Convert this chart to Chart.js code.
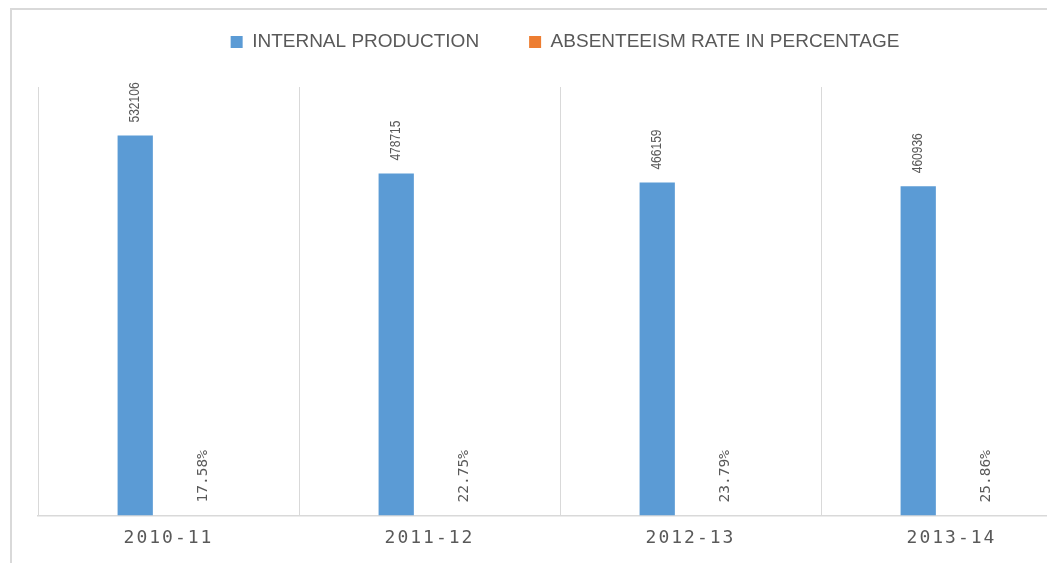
<!DOCTYPE html>
<html lang="en">
<head>
    <meta charset="UTF-8">
    <title>Internal production vs absenteeism</title>
    <script src="https://cdn.jsdelivr.net/npm/chart.js@4.4.1/dist/chart.umd.min.js"></script>
    <style>
        html, body { margin: 0; padding: 0; background: #fff; overflow: hidden; }
        .frame {
            position: absolute; left: 10px; top: 8px;
            width: 1200px; height: 700px;
            border: 2px solid #d9d9d9;
            box-sizing: border-box;
        }
        #chart { position: absolute; left: 0; top: 0; }
    </style>
</head>
<body>
    <div class="frame"></div>
    <canvas id="chart" width="1120" height="563"></canvas>

    <script>
        // datos
        const years = ['2010-11', '2011-12', '2012-13', '2013-14'];
        const internalProduction = [532106, 478715, 466159, 460936];
        const absenteeismRate = [17.58, 22.75, 23.79, 25.86];

        const BLUE = '#5B9BD5';
        const ORANGE = '#ED7D31';
        const TEXT = '#595959';

        // etiquetas de valor giradas encima de cada barra
        const barLabels = {
            id: 'barLabels',
            afterDatasetsDraw(chart) {
                const ctx = chart.ctx;
                chart.data.datasets.forEach((ds, di) => {
                    const meta = chart.getDatasetMeta(di);
                    meta.data.forEach((bar, i) => {
                        ctx.save();
                        ctx.fillStyle = TEXT;
                        ctx.textAlign = 'left';
                        ctx.textBaseline = 'middle';
                        ctx.translate(bar.x + (di === 0 ? 0 : 1), bar.y - 13);
                        ctx.rotate(-Math.PI / 2);
                        if (di === 0) {
                            ctx.font = '15px "Liberation Sans", Arial, sans-serif';
                            ctx.scale(0.8, 1);
                            ctx.fillText(String(ds.data[i]), 0, 0);
                        } else {
                            ctx.font = '14.5px "DejaVu Sans Mono", monospace';
                            ctx.fillText(ds.data[i].toFixed(2) + '%', 0, 0);
                        }
                        ctx.restore();
                    });
                });
                // espaciado de letras para las etiquetas del eje x
                ctx.letterSpacing = '2px';
            },
            afterDraw(chart) {
                chart.ctx.letterSpacing = '0px';
            }
        };

        // espacio extra debajo de la leyenda y pequeño desplazamiento a la derecha
        const legendGap = {
            id: 'legendGap',
            beforeInit(chart) {
                const legend = chart.legend;
                const fit = legend.fit;
                legend.fit = function () {
                    fit.call(this);
                    this.height += 25.5;
                };
                const draw = legend.draw;
                legend.draw = function () {
                    this.ctx.save();
                    this.ctx.translate(5, 0);
                    draw.call(this);
                    this.ctx.restore();
                };
            }
        };

        new Chart(document.getElementById('chart'), {
            type: 'bar',
            data: {
                labels: years,
                datasets: [{
                    label: 'INTERNAL PRODUCTION',
                    data: internalProduction,
                    backgroundColor: BLUE,
                    barPercentage: 0.53,
                    categoryPercentage: 0.51
                }, {
                    label: 'ABSENTEEISM RATE IN PERCENTAGE',
                    data: absenteeismRate,
                    backgroundColor: ORANGE,
                    barPercentage: 0.53,
                    categoryPercentage: 0.51
                }]
            },
            options: {
                responsive: false,
                animation: false,
                layout: { padding: { top: -17.5, left: 38, right: 38, bottom: 2 } },
                plugins: {
                    legend: {
                        position: 'top',
                        labels: {
                            boxWidth: 12,
                            boxHeight: 12,
                            padding: 50,
                            color: TEXT,
                            font: { family: '"Liberation Sans", Arial, sans-serif', size: 19 }
                        }
                    },
                    tooltip: { enabled: false }
                },
                scales: {
                    x: {
                        offset: true,
                        grid: { offset: true, color: '#d9d9d9', lineWidth: 1, drawTicks: false },
                        border: { color: '#d9d9d9', width: 1.5 },
                        ticks: {
                            z: 1,
                            padding: 12,
                            color: TEXT,
                            font: { family: '"DejaVu Sans Mono", monospace', size: 18 }
                        }
                    },
                    y: {
                        display: false,
                        min: 0,
                        max: 600000
                    }
                }
            },
            plugins: [barLabels, legendGap]
        });
    </script>
</body>
</html>
